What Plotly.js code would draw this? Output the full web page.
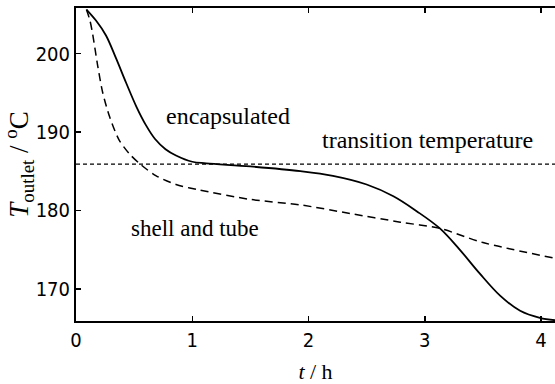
<!DOCTYPE html>
<html>
<head>
<meta charset="utf-8">
<script src="https://cdn.plot.ly/plotly-3.0.1.min.js"></script>
<style>html,body{margin:0;padding:0;background:#fff;}#chart{width:555px;height:384px;}</style>
</head>
<body>
<div id="chart"></div>
<script>
// Encapsulated heat exchanger outlet temperature (solid)
const encT = [0.09, 0.172, 0.258, 0.344, 0.43, 0.52, 0.60, 0.68, 0.77, 0.86, 1.0, 1.12, 1.5, 1.93, 2.21, 2.50, 2.73, 2.93, 3.13, 3.30, 3.47, 3.65, 3.82, 3.99, 4.12];
const encTemp = [205.6, 204.2, 202.3, 199.4, 196.3, 193.2, 190.9, 189.1, 187.8, 187.0, 186.2, 186.0, 185.6, 185.0, 184.4, 183.3, 181.8, 179.9, 177.7, 175.0, 172.0, 169.1, 167.2, 166.3, 166.0];

// Shell and tube outlet temperature (dashed)
const shellT = [0.09, 0.12, 0.143, 0.186, 0.23, 0.29, 0.37, 0.46, 0.56, 0.69, 0.86, 1.06, 1.50, 1.93, 2.36, 2.79, 3.13, 3.50, 4.12];
const shellTemp = [205.6, 204.2, 202.5, 198.5, 195.0, 191.9, 189.0, 187.2, 185.8, 184.4, 183.3, 182.6, 181.4, 180.7, 179.6, 178.5, 177.7, 175.9, 173.9];

// Transition temperature (short dashed)
const transT = [0, 4.12];
const transTemp = [185.9, 185.9];

// Axis ticks
const xTicks = [0, 1, 2, 3, 4];
const yTicks = [170, 180, 190, 200];

// Labels
const labels = ["encapsulated", "transition temperature", "shell and tube"];
const labelT = [1.31, 3.02, 1.02];
const labelTemp = [192.0, 189.0, 177.7];
const labelSize = [24, 24, 23];

const serif = "Liberation Serif, Times New Roman, serif";
const sans = "Liberation Sans Narrow, DejaVu Sans Condensed, Liberation Sans, sans-serif";

const traces = [
  {x: transT, y: transTemp, mode: "lines", line: {color: "#000", width: 1.2, dash: "4px,3px"}, hoverinfo: "skip"},
  {x: shellT, y: shellTemp, mode: "lines", line: {color: "#000", width: 1.5, dash: "8px,5px", shape: "spline", smoothing: 0.8}},
  {x: encT, y: encTemp, mode: "lines", line: {color: "#000", width: 1.8, shape: "spline", smoothing: 1}}
];

const annotations = labels.map((s, i) => ({
  x: labelT[i], y: labelTemp[i], xref: "x", yref: "y", text: s, showarrow: false,
  font: {family: serif, size: labelSize[i], color: "#000"}, xanchor: "center", yanchor: "middle"
}));

const layout = {
  width: 555, height: 384,
  margin: {l: 76, r: 0, t: 8, b: 63},
  paper_bgcolor: "#fff", plot_bgcolor: "#fff",
  showlegend: false,
  xaxis: {
    range: [0, 4.12], tickvals: xTicks, ticktext: xTicks.map(String),
    ticks: "inside", ticklen: 5, tickwidth: 1.5, tickcolor: "#000",
    showline: true, linecolor: "#000", linewidth: 2, mirror: "ticks",
    showgrid: false, zeroline: false,
    tickfont: {family: sans, size: 20, color: "#000"},
    title: {text: "<i>t</i> / h", font: {family: serif, size: 22, color: "#000"}, standoff: 16}
  },
  yaxis: {
    range: [165.9, 205.8], tickvals: yTicks, ticktext: yTicks.map(String),
    ticks: "inside", ticklen: 5, tickwidth: 1.5, tickcolor: "#000",
    showline: true, linecolor: "#000", linewidth: 2, mirror: false,
    showgrid: false, zeroline: false,
    tickfont: {family: sans, size: 20, color: "#000"},
    title: {text: "<i>T</i><sub>outlet</sub> / <sup>o</sup>C", font: {family: serif, size: 27, color: "#000"}, standoff: 4}
  },
  annotations: annotations
};

Plotly.newPlot("chart", traces, layout, {displayModeBar: false, staticPlot: true});
</script>
</body>
</html>
